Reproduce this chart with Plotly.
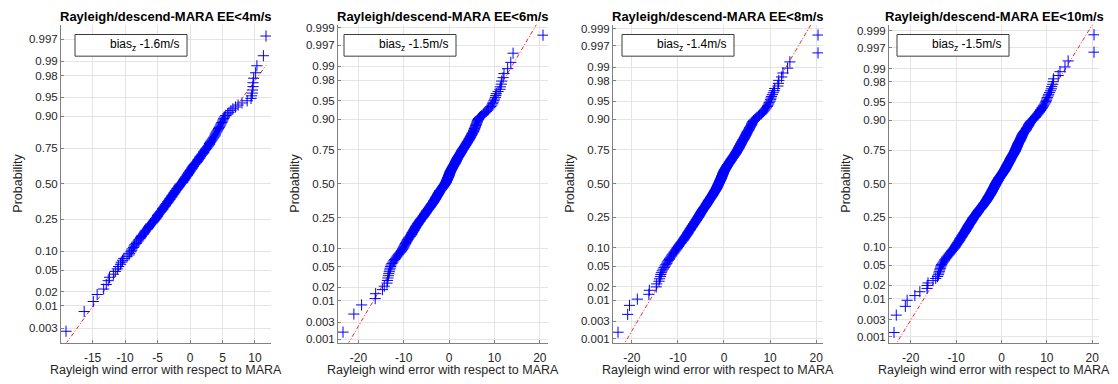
import numpy as np
import plotly.graph_objects as go
from statistics import NormalDist

W, H = 1118, 384
FONT = "Liberation Sans, Arial, Helvetica, sans-serif"

titles = [
    "Rayleigh/descend-MARA EE<4m/s",
    "Rayleigh/descend-MARA EE<6m/s",
    "Rayleigh/descend-MARA EE<8m/s",
    "Rayleigh/descend-MARA EE<10m/s",
]
bias_values = ["-1.6m/s", "-1.5m/s", "-1.4m/s", "-1.5m/s"]
x_label = "Rayleigh wind error with respect to MARA"
y_label = "Probability"

# Rayleigh minus MARA wind errors (m/s), one list per elevation-error threshold
err_ee4 = [
    -19.1, -16.3, -14.9, -14.3, -13.3, -12.9, -12.6, -12.4, -11.8, -11.5,
    -11.2, -11.0, -10.7, -10.6, -10.4, -10.2, -9.7, -9.4, -9.3, -9.1,
    -9.0, -8.9, -8.7, -8.6, -8.5, -8.3, -8.2, -8.0, -7.9, -7.7,
    -7.6, -7.5, -7.4, -7.2, -7.1, -7.0, -6.9, -6.8, -6.6, -6.5,
    -6.4, -6.3, -6.2, -6.1, -6.0, -5.8, -5.7, -5.6, -5.5, -5.4,
    -5.3, -5.2, -5.1, -5.0, -5.0, -4.9, -4.8, -4.7, -4.6, -4.5,
    -4.4, -4.3, -4.2, -4.2, -4.1, -4.0, -3.9, -3.8, -3.8, -3.7,
    -3.6, -3.5, -3.4, -3.4, -3.3, -3.2, -3.1, -3.1, -3.0, -2.9,
    -2.8, -2.8, -2.7, -2.6, -2.5, -2.5, -2.4, -2.3, -2.3, -2.2,
    -2.1, -2.0, -2.0, -1.9, -1.8, -1.7, -1.7, -1.6, -1.5, -1.5,
    -1.3, -1.2, -1.1, -1.1, -1.0, -0.9, -0.9, -0.8, -0.7, -0.7,
    -0.6, -0.5, -0.4, -0.4, -0.3, -0.2, -0.2, -0.1, 0.0, 0.0,
    0.1, 0.2, 0.3, 0.3, 0.4, 0.5, 0.5, 0.6, 0.7, 0.8,
    0.9, 1.0, 1.1, 1.2, 1.2, 1.3, 1.4, 1.5, 1.5, 1.6,
    1.7, 1.8, 1.9, 2.0, 2.1, 2.1, 2.2, 2.3, 2.4, 2.5,
    2.6, 2.7, 2.8, 2.9, 3.0, 3.0, 3.1, 3.2, 3.3, 3.4,
    3.5, 3.6, 3.7, 3.8, 3.9, 3.9, 4.0, 4.1, 4.2, 4.3,
    4.4, 4.5, 4.6, 4.7, 4.8, 4.9, 5.0, 5.1, 5.2, 5.3,
    5.5, 5.8, 6.0, 6.3, 6.6, 7.0, 7.4, 8.0, 8.8, 9.4,
    9.5, 9.6, 9.6, 9.7, 9.7, 9.8, 10.1, 10.3, 11.3, 11.7,
]

err_ee6 = [
    -23.4, -21.0, -19.3, -16.3, -16.2, -14.7, -14.3, -13.7, -13.6, -13.5, -13.4, -13.3, -13.2, -13.1, -13.0,
    -12.9, -12.8, -12.6, -12.4, -12.2, -12.0, -11.8, -11.6, -11.4, -11.2, -11.0, -10.8, -10.6, -10.5, -10.3, -10.2,
    -10.1, -10.0, -9.9, -9.8, -9.7, -9.6, -9.5, -9.4, -9.3, -9.2, -9.1, -9.0, -8.9, -8.8, -8.6,
    -8.5, -8.4, -8.3, -8.2, -8.2, -8.1, -8.0, -7.9, -7.8, -7.7, -7.7, -7.6, -7.5, -7.4, -7.4, -7.3,
    -7.2, -7.1, -7.0, -6.9, -6.9, -6.8, -6.7, -6.6, -6.5, -6.4, -6.4, -6.3, -6.2, -6.1, -6.0,
    -5.9, -5.8, -5.7, -5.7, -5.6, -5.5, -5.4, -5.4, -5.3, -5.2, -5.1, -5.1, -5.0, -4.9, -4.9, -4.8,
    -4.7, -4.6, -4.5, -4.5, -4.4, -4.3, -4.2, -4.2, -4.1, -4.0, -4.0, -3.9, -3.8, -3.8, -3.7,
    -3.6, -3.5, -3.5, -3.4, -3.4, -3.3, -3.3, -3.2, -3.1, -3.1, -3.0, -3.0, -2.9, -2.9, -2.8, -2.8,
    -2.7, -2.6, -2.6, -2.5, -2.5, -2.4, -2.4, -2.3, -2.3, -2.2, -2.2, -2.1, -2.1, -2.0, -2.0,
    -1.8, -1.7, -1.7, -1.6, -1.6, -1.5, -1.4, -1.4, -1.3, -1.3, -1.2, -1.1, -1.1, -1.0, -0.9, -0.9,
    -0.8, -0.8, -0.7, -0.7, -0.6, -0.6, -0.6, -0.5, -0.5, -0.4, -0.4, -0.4, -0.3, -0.3, -0.3,
    -0.2, -0.2, -0.1, -0.1, -0.1, 0.0, 0.0, 0.0, 0.1, 0.1, 0.1, 0.2, 0.2, 0.2, 0.3, 0.3,
    0.4, 0.4, 0.5, 0.5, 0.6, 0.6, 0.7, 0.7, 0.8, 0.8, 0.9, 0.9, 1.0, 1.0, 1.1,
    1.2, 1.2, 1.3, 1.3, 1.4, 1.4, 1.5, 1.5, 1.6, 1.6, 1.7, 1.7, 1.8, 1.8, 1.9, 1.9,
    2.0, 2.1, 2.1, 2.2, 2.3, 2.3, 2.4, 2.5, 2.5, 2.6, 2.7, 2.7, 2.8, 2.8, 2.9,
    3.0, 3.1, 3.1, 3.2, 3.3, 3.4, 3.4, 3.5, 3.6, 3.7, 3.7, 3.8, 3.9, 4.0, 4.0, 4.1,
    4.2, 4.3, 4.4, 4.4, 4.5, 4.6, 4.7, 4.7, 4.8, 4.9, 5.0, 5.0, 5.1, 5.2, 5.3,
    5.4, 5.4, 5.5, 5.6, 5.6, 5.7, 5.8, 5.8, 5.9, 6.0, 6.0, 6.1, 6.2, 6.2, 6.3, 6.4,
    6.5, 6.7, 6.9, 7.2, 7.5, 7.7, 7.9, 8.2, 8.5, 8.7, 9.0, 9.2, 9.4, 9.6, 9.7, 9.9,
    10.0, 10.2, 10.3, 10.4, 10.8, 11.2, 11.3, 11.5, 11.6, 11.9, 12.1, 12.9, 13.6, 14.1, 20.7,
]

err_ee8 = [
    -23.0, -20.9, -20.5, -18.8, -16.3, -16.2, -14.7, -14.6, -14.1, -14.0, -13.8, -13.7, -13.6, -13.4, -13.2, -13.0,
    -12.8, -12.6, -12.4, -12.3, -12.1, -11.9, -11.8, -11.6, -11.4, -11.3, -11.1, -10.9, -10.8, -10.6, -10.5, -10.3, -10.2,
    -10.1, -9.9, -9.8, -9.7, -9.6, -9.4, -9.3, -9.2, -9.0, -8.9, -8.8, -8.7, -8.6, -8.5, -8.4, -8.3,
    -8.2, -8.1, -8.0, -7.9, -7.8, -7.8, -7.7, -7.6, -7.5, -7.4, -7.3, -7.3, -7.2, -7.1, -7.0, -6.9, -6.9,
    -6.8, -6.7, -6.6, -6.6, -6.5, -6.4, -6.3, -6.3, -6.2, -6.1, -6.0, -6.0, -5.9, -5.8, -5.8, -5.7,
    -5.6, -5.6, -5.5, -5.4, -5.4, -5.3, -5.3, -5.2, -5.1, -5.1, -5.0, -5.0, -4.9, -4.8, -4.8, -4.7, -4.7,
    -4.6, -4.5, -4.5, -4.4, -4.3, -4.3, -4.2, -4.1, -4.1, -4.0, -3.9, -3.9, -3.8, -3.8, -3.7, -3.7,
    -3.6, -3.5, -3.5, -3.4, -3.4, -3.3, -3.3, -3.2, -3.2, -3.1, -3.0, -3.0, -2.9, -2.9, -2.8, -2.8, -2.7,
    -2.6, -2.6, -2.5, -2.5, -2.4, -2.4, -2.3, -2.3, -2.2, -2.2, -2.1, -2.1, -2.0, -2.0, -1.9, -1.9,
    -1.8, -1.8, -1.7, -1.7, -1.6, -1.6, -1.6, -1.5, -1.5, -1.4, -1.4, -1.4, -1.3, -1.3, -1.2, -1.2, -1.2,
    -1.1, -1.1, -1.0, -1.0, -1.0, -0.9, -0.9, -0.9, -0.8, -0.8, -0.7, -0.7, -0.7, -0.6, -0.6, -0.6,
    -0.5, -0.5, -0.5, -0.4, -0.4, -0.4, -0.3, -0.3, -0.3, -0.2, -0.2, -0.2, -0.1, -0.1, -0.1, 0.0, 0.0,
    0.1, 0.1, 0.2, 0.2, 0.3, 0.3, 0.4, 0.4, 0.5, 0.5, 0.6, 0.6, 0.7, 0.7, 0.8, 0.8,
    0.9, 1.0, 1.0, 1.1, 1.2, 1.2, 1.3, 1.3, 1.4, 1.5, 1.5, 1.6, 1.6, 1.7, 1.8, 1.8, 1.9,
    2.0, 2.0, 2.1, 2.2, 2.2, 2.3, 2.4, 2.4, 2.5, 2.6, 2.6, 2.7, 2.7, 2.8, 2.9, 2.9,
    3.0, 3.0, 3.1, 3.2, 3.2, 3.3, 3.3, 3.4, 3.4, 3.5, 3.6, 3.6, 3.7, 3.7, 3.8, 3.9, 3.9,
    4.0, 4.1, 4.1, 4.2, 4.3, 4.4, 4.4, 4.5, 4.6, 4.6, 4.7, 4.8, 4.8, 4.9, 5.0, 5.0,
    5.1, 5.2, 5.3, 5.4, 5.5, 5.5, 5.6, 5.7, 5.8, 5.9, 6.0, 6.0, 6.1, 6.2, 6.3, 6.4, 6.6,
    6.8, 7.0, 7.2, 7.5, 7.7, 8.0, 8.2, 8.4, 8.6, 8.8, 9.0, 9.2, 9.4, 9.5, 9.7, 9.8, 10.0,
    10.1, 10.2, 10.3, 10.5, 10.7, 10.9, 11.0, 11.7, 11.8, 11.9, 12.5, 12.8, 13.8, 14.3, 20.4, 20.4,
]

err_ee10 = [
    -23.7, -23.2, -21.2, -20.8, -19.1, -18.0, -16.4, -16.4, -16.2, -15.1, -14.5, -14.1, -13.9, -13.8, -13.7, -13.6, -13.5, -13.4, -13.3,
    -13.2, -13.0, -12.8, -12.6, -12.5, -12.3, -12.1, -12.0, -11.8, -11.6, -11.5, -11.3, -11.2, -11.0, -10.9, -10.7, -10.6, -10.4, -10.3,
    -10.2, -10.1, -10.0, -9.9, -9.8, -9.7, -9.6, -9.5, -9.4, -9.3, -9.2, -9.2, -9.1, -9.0, -8.9, -8.8, -8.7, -8.7, -8.6,
    -8.5, -8.4, -8.3, -8.3, -8.2, -8.1, -8.0, -8.0, -7.9, -7.8, -7.8, -7.7, -7.6, -7.6, -7.5, -7.4, -7.4, -7.3, -7.3,
    -7.2, -7.1, -7.1, -7.0, -6.9, -6.9, -6.8, -6.7, -6.7, -6.6, -6.6, -6.5, -6.4, -6.4, -6.3, -6.3, -6.2, -6.2, -6.1,
    -6.0, -5.9, -5.9, -5.8, -5.7, -5.7, -5.6, -5.5, -5.5, -5.4, -5.4, -5.3, -5.2, -5.2, -5.1, -5.1, -5.0, -5.0, -4.9,
    -4.8, -4.7, -4.7, -4.6, -4.5, -4.5, -4.4, -4.3, -4.3, -4.2, -4.2, -4.1, -4.0, -4.0, -3.9, -3.9, -3.8, -3.8, -3.7,
    -3.6, -3.6, -3.5, -3.5, -3.4, -3.4, -3.3, -3.3, -3.2, -3.2, -3.1, -3.1, -3.0, -3.0, -2.9, -2.9, -2.9, -2.8, -2.8,
    -2.7, -2.7, -2.6, -2.6, -2.5, -2.5, -2.5, -2.4, -2.4, -2.3, -2.3, -2.2, -2.2, -2.2, -2.1, -2.1, -2.0, -2.0, -2.0,
    -1.9, -1.9, -1.8, -1.8, -1.8, -1.7, -1.7, -1.7, -1.6, -1.6, -1.5, -1.5, -1.5, -1.4, -1.4, -1.4, -1.3, -1.3, -1.3,
    -1.2, -1.2, -1.1, -1.1, -1.0, -1.0, -1.0, -0.9, -0.9, -0.8, -0.8, -0.7, -0.7, -0.7, -0.6, -0.6, -0.5, -0.5, -0.5,
    -0.4, -0.3, -0.3, -0.2, -0.2, -0.1, -0.1, 0.0, 0.0, 0.1, 0.1, 0.2, 0.2, 0.3, 0.3, 0.4, 0.4, 0.5, 0.5,
    0.6, 0.6, 0.7, 0.7, 0.7, 0.8, 0.8, 0.9, 0.9, 1.0, 1.0, 1.0, 1.1, 1.1, 1.2, 1.2, 1.2, 1.3, 1.3,
    1.4, 1.4, 1.5, 1.5, 1.5, 1.6, 1.6, 1.7, 1.7, 1.8, 1.8, 1.8, 1.9, 1.9, 2.0, 2.0, 2.0, 2.1, 2.1,
    2.2, 2.2, 2.3, 2.3, 2.4, 2.4, 2.5, 2.5, 2.6, 2.6, 2.7, 2.7, 2.8, 2.8, 2.9, 2.9, 3.0, 3.0, 3.0,
    3.1, 3.1, 3.2, 3.2, 3.2, 3.3, 3.3, 3.4, 3.4, 3.4, 3.5, 3.5, 3.6, 3.6, 3.6, 3.7, 3.7, 3.8, 3.8,
    3.9, 4.0, 4.0, 4.1, 4.1, 4.2, 4.2, 4.3, 4.3, 4.4, 4.4, 4.5, 4.5, 4.6, 4.6, 4.7, 4.8, 4.8, 4.9,
    5.0, 5.1, 5.2, 5.3, 5.4, 5.5, 5.5, 5.6, 5.7, 5.8, 5.9, 6.0, 6.0, 6.1, 6.2, 6.3, 6.4, 6.5, 6.7,
    6.9, 7.0, 7.2, 7.4, 7.5, 7.7, 7.8, 8.0, 8.1, 8.3, 8.4, 8.6, 8.7, 8.9, 9.0, 9.2, 9.3, 9.5, 9.7,
    9.8, 9.9, 10.0, 10.1, 10.3, 10.4, 10.6, 10.8, 11.0, 11.1, 11.3, 11.4, 11.5, 12.5, 12.9, 14.0, 14.7, 20.4, 20.4,
]

errors = [err_ee4, err_ee6, err_ee8, err_ee10]

prob_ticks_ee4 = [0.003, 0.01, 0.02, 0.05, 0.10, 0.25, 0.50, 0.75, 0.90, 0.95, 0.98, 0.99, 0.997]
prob_labels_ee4 = ["0.003", "0.01", "0.02", "0.05", "0.10", "0.25", "0.50", "0.75", "0.90", "0.95", "0.98", "0.99", "0.997"]
prob_ticks_wide = [0.001, 0.003, 0.01, 0.02, 0.05, 0.10, 0.25, 0.50, 0.75, 0.90, 0.95, 0.98, 0.99, 0.997, 0.999]
prob_labels_wide = ["0.001", "0.003", "0.01", "0.02", "0.05", "0.10", "0.25", "0.50", "0.75", "0.90", "0.95", "0.98", "0.99", "0.997", "0.999"]
x_ticks_ee4 = [-15, -10, -5, 0, 5, 10]
x_ticks_wide = [-20, -10, 0, 10, 20]

prob_ticks = [prob_ticks_ee4, prob_ticks_wide, prob_ticks_wide, prob_ticks_wide]
prob_labels = [prob_labels_ee4, prob_labels_wide, prob_labels_wide, prob_labels_wide]
x_ticks = [x_ticks_ee4, x_ticks_wide, x_ticks_wide, x_ticks_wide]

# panel placement in pixels
axis_left = [61, 338, 613, 889]
axis_w = 210
axis_top, axis_bottom = 22, 345
box_left = [75, 344, 622, 897]
box_w, box_top, box_bottom = 112, 32, 54

nd = NormalDist()


def px_x(v):
    return v / W


def px_y(v):
    return 1 - v / H


fig = go.Figure()
layout = dict(
    width=W, height=H, margin=dict(l=0, r=0, t=0, b=0),
    paper_bgcolor="white", plot_bgcolor="white", showlegend=False,
    font=dict(family=FONT, size=11.5, color="#262626"),
)
annotations = []
shapes = []

for k in range(4):
    data = np.sort(np.asarray(errors[k], dtype=float))
    n = data.size
    ranks = (np.arange(1, n + 1) - 0.5) / n
    zpos = np.array([nd.inv_cdf(p) for p in ranks])

    # reference line through the first and third quartiles
    q1, q3 = np.percentile(data, [25, 75])
    zq = nd.inv_cdf(0.75)
    lx = np.array([data.min(), data.max()])
    lz = -zq + (lx - q1) * (2 * zq) / (q3 - q1)

    xa = "x" if k == 0 else f"x{k + 1}"
    ya = "y" if k == 0 else f"y{k + 1}"
    fig.add_trace(go.Scatter(
        x=lx, y=lz, mode="lines", xaxis=xa, yaxis=ya,
        line=dict(color="#ff2020", width=1, dash="4px,2px,1px,2px"),
    ))
    fig.add_trace(go.Scatter(
        x=data, y=zpos, mode="markers", xaxis=xa, yaxis=ya,
        marker=dict(symbol="cross-thin", size=8, color="#0000ff",
                    line=dict(width=1, color="#0000ff")),
    ))

    span = data.max() - data.min()
    xr = [data.min() - 0.025 * span, data.max() + 0.025 * span]
    zlim = nd.inv_cdf(1 - 0.25 / n)
    suffix = "" if k == 0 else str(k + 1)

    layout["xaxis" + suffix] = dict(
        domain=[px_x(axis_left[k]), px_x(axis_left[k] + axis_w)],
        anchor="y" + suffix, range=xr, tickmode="array", tickvals=x_ticks[k],
        ticktext=[str(t) for t in x_ticks[k]],
        showgrid=True, gridcolor="#e4e4e4", gridwidth=1, zeroline=False,
        showline=True, linecolor="#808080", linewidth=1,
        ticks="inside", ticklen=3, tickcolor="#808080", ticklabelstandoff=4,
        tickfont=dict(size=12, color="#262626", family=FONT),
    )
    layout["yaxis" + suffix] = dict(
        domain=[px_y(axis_bottom), px_y(axis_top)],
        anchor="x" + suffix, range=[-zlim, zlim], tickmode="array",
        tickvals=[nd.inv_cdf(p) for p in prob_ticks[k]], ticktext=prob_labels[k],
        showgrid=True, gridcolor="#e4e4e4", gridwidth=1, zeroline=False,
        showline=True, linecolor="#808080", linewidth=1,
        ticks="inside", ticklen=3, tickcolor="#808080",
        tickfont=dict(size=11.5, color="#262626", family=FONT),
    )

    cx = axis_left[k] + axis_w / 2
    annotations.append(dict(
        text="<b>" + titles[k] + "</b>", x=px_x(cx), y=px_y(14),
        xref="paper", yref="paper", xanchor="center", yanchor="middle",
        showarrow=False, font=dict(size=13, color="black", family=FONT),
    ))
    annotations.append(dict(
        text=x_label, x=px_x(cx), y=px_y(373),
        xref="paper", yref="paper", xanchor="center", yanchor="middle",
        showarrow=False, font=dict(size=12.5, color="#262626", family=FONT),
    ))
    annotations.append(dict(
        text=y_label, x=px_x(axis_left[k] - 43), y=px_y((axis_top + axis_bottom) / 2),
        xref="paper", yref="paper", xanchor="center", yanchor="middle", textangle=-90,
        showarrow=False, font=dict(size=12.5, color="#262626", family=FONT),
    ))
    shapes.append(dict(
        type="rect", xref="paper", yref="paper",
        x0=px_x(box_left[k]), x1=px_x(box_left[k] + box_w),
        y0=px_y(box_bottom), y1=px_y(box_top),
        line=dict(color="#3c3c3c", width=1), fillcolor="white", layer="above",
    ))
    annotations.append(dict(
        text="bias<sub>z</sub> " + bias_values[k],
        x=px_x(box_left[k] + box_w - 5), y=px_y((box_top + box_bottom) / 2),
        xref="paper", yref="paper", xanchor="right", yanchor="middle",
        showarrow=False, font=dict(size=12, color="black", family=FONT),
    ))

layout["annotations"] = annotations
layout["shapes"] = shapes
fig.update_layout(**layout)
fig.write_html("out.html")
